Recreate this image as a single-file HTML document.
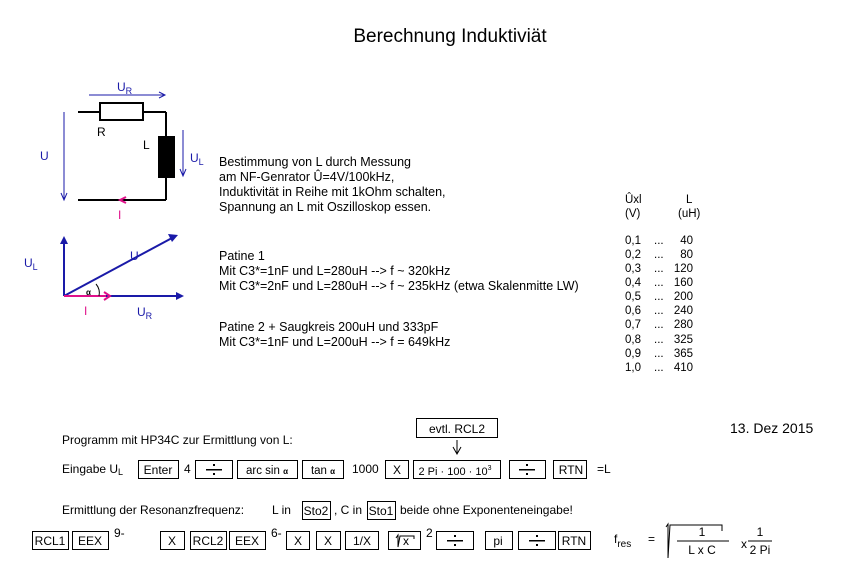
<!DOCTYPE html>
<html><head><meta charset="utf-8"><style>
html,body{margin:0;padding:0;background:#fff;}
svg{display:block;font-family:"Liberation Sans",Arial,sans-serif;}
</style></head><body>
<svg width="849" height="588" viewBox="0 0 849 588" xmlns="http://www.w3.org/2000/svg">
<rect width="849" height="588" fill="#fff"/>
<text x="450" y="42" font-size="19" text-anchor="middle">Berechnung Induktiviät</text>

<!-- circuit -->
<g stroke="#000" stroke-width="2" fill="none">
<line x1="78" y1="112" x2="100" y2="112"/>
<rect x="100" y="103" width="43" height="17" fill="#fff"/>
<line x1="143" y1="112" x2="166" y2="112"/>
<line x1="166" y1="112" x2="166" y2="136"/>
<line x1="166" y1="177" x2="166" y2="200"/>
<line x1="78" y1="200" x2="166" y2="200"/>
</g>
<rect x="158" y="136" width="17" height="42" fill="#000"/>
<g stroke="#1a1aa8" stroke-width="1" fill="none">
<line x1="89" y1="95" x2="165" y2="95"/><polyline points="159,92 165,95 159,98"/>
<line x1="64" y1="112" x2="64" y2="200"/><polyline points="61,193 64,200 67,193"/>
<line x1="183" y1="130" x2="183" y2="176"/><polyline points="180,169 183,176 186,169"/>
</g>
<polyline points="126,197 120,200 126,203" stroke="#e0108a" stroke-width="2" fill="none"/>
<g fill="#1a1aa8" font-size="12">
<text x="117" y="91">U<tspan font-size="9" dy="3">R</tspan></text>
<text x="40" y="160">U</text>
<text x="190" y="162">U<tspan font-size="9" dy="3">L</tspan></text>
</g>
<text x="97" y="136" font-size="12">R</text>
<text x="143" y="149" font-size="12">L</text>
<text x="118" y="219" font-size="12" fill="#e0108a">I</text>

<!-- phasor -->
<g stroke="#1a1aa8" stroke-width="2" fill="#1a1aa8">
<line x1="64" y1="296" x2="64" y2="242"/><polygon points="60,244 64,236 68,244" stroke="none"/>
<line x1="64" y1="296" x2="172" y2="238"/><polygon points="178,235 168,234 172,242" stroke="none"/>
<line x1="64" y1="296" x2="178" y2="296"/><polygon points="176,292 184,296 176,300" stroke="none"/>
</g>
<line x1="64" y1="296" x2="106" y2="296" stroke="#e0108a" stroke-width="2"/>
<polyline points="104,292 110,296 104,300" stroke="#e0108a" stroke-width="2" fill="none"/>
<path d="M96,284 A14,14 0 0 1 99,296" stroke="#000" fill="none"/>
<text x="86" y="295" font-size="8" font-weight="bold">α</text>
<g fill="#1a1aa8" font-size="12">
<text x="24" y="267">U<tspan font-size="9" dy="3">L</tspan></text>
<text x="130" y="260">U</text>
<text x="137" y="316">U<tspan font-size="9" dy="3">R</tspan></text>
</g>
<text x="84" y="315" font-size="12" fill="#e0108a">I</text>

<!-- text block -->
<g font-size="12.5">
<text x="219" y="166">Bestimmung von L durch Messung</text>
<text x="219" y="181">am NF-Genrator Û=4V/100kHz,</text>
<text x="219" y="196">Induktivität in Reihe mit 1kOhm schalten,</text>
<text x="219" y="211">Spannung an L mit Oszilloskop essen.</text>
<text x="219" y="260">Patine 1</text>
<text x="219" y="275">Mit C3*=1nF und L=280uH --&gt; f ~ 320kHz</text>
<text x="219" y="290">Mit C3*=2nF und L=280uH --&gt; f ~ 235kHz (etwa Skalenmitte LW)</text>
<text x="219" y="331">Patine 2 + Saugkreis 200uH und 333pF</text>
<text x="219" y="346">Mit C3*=1nF und L=200uH --&gt; f = 649kHz</text>
</g>

<!-- table -->
<g font-size="11.5">
<text x="625" y="203">Ûxl</text><text x="686" y="203">L</text>
<text x="625" y="217">(V)</text><text x="678" y="217">(uH)</text>
</g>
<g font-size="11.5">
<text x="625" y="244">0,1</text><text x="654" y="244">...</text><text x="693" y="244" text-anchor="end">40</text>
<text x="625" y="258">0,2</text><text x="654" y="258">...</text><text x="693" y="258" text-anchor="end">80</text>
<text x="625" y="272">0,3</text><text x="654" y="272">...</text><text x="693" y="272" text-anchor="end">120</text>
<text x="625" y="286">0,4</text><text x="654" y="286">...</text><text x="693" y="286" text-anchor="end">160</text>
<text x="625" y="300">0,5</text><text x="654" y="300">...</text><text x="693" y="300" text-anchor="end">200</text>
<text x="625" y="314">0,6</text><text x="654" y="314">...</text><text x="693" y="314" text-anchor="end">240</text>
<text x="625" y="328">0,7</text><text x="654" y="328">...</text><text x="693" y="328" text-anchor="end">280</text>
<text x="625" y="343">0,8</text><text x="654" y="343">...</text><text x="693" y="343" text-anchor="end">325</text>
<text x="625" y="357">0,9</text><text x="654" y="357">...</text><text x="693" y="357" text-anchor="end">365</text>
<text x="625" y="371">1,0</text><text x="654" y="371">...</text><text x="693" y="371" text-anchor="end">410</text>
</g>

<text x="730" y="433" font-size="14">13. Dez 2015</text>

<!-- program -->
<g font-size="12">
<text x="62" y="444">Programm mit HP34C zur Ermittlung von L:</text>
<text x="62" y="473">Eingabe U<tspan font-size="9" dy="2">L</tspan></text>
<text x="184" y="473">4</text>
<text x="352" y="473">1000</text>
<text x="597" y="473">=L</text>
<text x="62" y="514">Ermittlung der Resonanzfrequenz:</text>
<text x="272" y="514">L in</text>
<text x="334" y="514">, C in</text>
<text x="400" y="514">beide ohne Exponenteneingabe!</text>
<text x="114" y="537">9-</text>
<text x="271" y="537">6-</text>
<text x="426" y="537">2</text>
</g>
<g stroke="#000" stroke-width="1" fill="none">
<rect x="416.5" y="418.5" width="81" height="19"/>
<line x1="457" y1="440" x2="457" y2="454"/><polyline points="453,447 457,454 461,447"/>
<rect x="138.5" y="460.5" width="40" height="18"/>
<rect x="195.5" y="460.5" width="37" height="18"/>
<rect x="237.5" y="460.5" width="60" height="18"/>
<rect x="302.5" y="460.5" width="41" height="18"/>
<rect x="385.5" y="460.5" width="23" height="18"/>
<rect x="413.5" y="460.5" width="87" height="18"/>
<rect x="509.5" y="460.5" width="36" height="18"/>
<rect x="553.5" y="460.5" width="33" height="18"/>
<rect x="302.5" y="501.5" width="28" height="18"/>
<rect x="367.5" y="501.5" width="28" height="18"/>
<rect x="32.5" y="531.5" width="36" height="18"/>
<rect x="72.5" y="531.5" width="36" height="18"/>
<rect x="160.5" y="531.5" width="24" height="18"/>
<rect x="190.5" y="531.5" width="36" height="18"/>
<rect x="229.5" y="531.5" width="36" height="18"/>
<rect x="286.5" y="531.5" width="23" height="18"/>
<rect x="316.5" y="531.5" width="24" height="18"/>
<rect x="345.5" y="531.5" width="33" height="18"/>
<rect x="388.5" y="531.5" width="32" height="18"/>
<rect x="436.5" y="531.5" width="37" height="18"/>
<rect x="485.5" y="531.5" width="27" height="18"/>
<rect x="518.5" y="531.5" width="37" height="18"/>
<rect x="558.5" y="531.5" width="32" height="18"/>
</g>
<g font-size="12" text-anchor="middle">
<text x="457" y="433">evtl. RCL2</text>
<text x="158" y="474">Enter</text>
<text x="267" y="474" font-size="11.5">arc sin <tspan font-size="8" font-weight="bold">α</tspan></text>
<text x="323" y="474" font-size="11.5">tan <tspan font-size="8" font-weight="bold">α</tspan></text>
<text x="397" y="474">X</text>
<text x="455" y="475" font-size="11">2 Pi · 100 · 10<tspan font-size="7" dy="-5">3</tspan></text>
<text x="571" y="474">RTN</text>
<text x="316" y="515">Sto2</text>
<text x="381" y="515">Sto1</text>
<text x="50" y="545">RCL1</text>
<text x="90" y="545">EEX</text>
<text x="172" y="545">X</text>
<text x="208" y="545">RCL2</text>
<text x="247" y="545">EEX</text>
<text x="298" y="545">X</text>
<text x="328" y="545">X</text>
<text x="362" y="545">1/X</text>
<text x="406" y="545">x</text>
<text x="498" y="545">pi</text>
<text x="574" y="545">RTN</text>
</g>
<polyline points="396,538 398,535 398,547 400,536 414,536 414,539" stroke="#000" fill="none"/>
<g fill="#000">
<rect x="206" y="469" width="16" height="1.5"/><rect x="213" y="464" width="2" height="2"/><rect x="213" y="473" width="2" height="2"/>
<rect x="519" y="469" width="16" height="1.5"/><rect x="526" y="464" width="2" height="2"/><rect x="526" y="473" width="2" height="2"/>
<rect x="447" y="540" width="16" height="1.5"/><rect x="454" y="535" width="2" height="2"/><rect x="454" y="544" width="2" height="2"/>
<rect x="529" y="540" width="16" height="1.5"/><rect x="536" y="535" width="2" height="2"/><rect x="536" y="544" width="2" height="2"/>
</g>
<g font-size="12">
<text x="614" y="543">f<tspan font-size="10" dy="4">res</tspan></text>
<text x="648" y="543">=</text>
<text x="702" y="536" text-anchor="middle">1</text>
<text x="702" y="554" text-anchor="middle">L x C</text>
<text x="741" y="548">x</text>
<text x="760" y="536" text-anchor="middle">1</text>
<text x="760" y="554" text-anchor="middle">2 Pi</text>
</g>
<polyline points="666,527 668,524 668,558 670,525 722,525 722,531" stroke="#000" fill="none"/>
<line x1="677" y1="541" x2="729" y2="541" stroke="#000"/>
<line x1="748" y1="541" x2="772" y2="541" stroke="#000"/>
</svg>
</body></html>
